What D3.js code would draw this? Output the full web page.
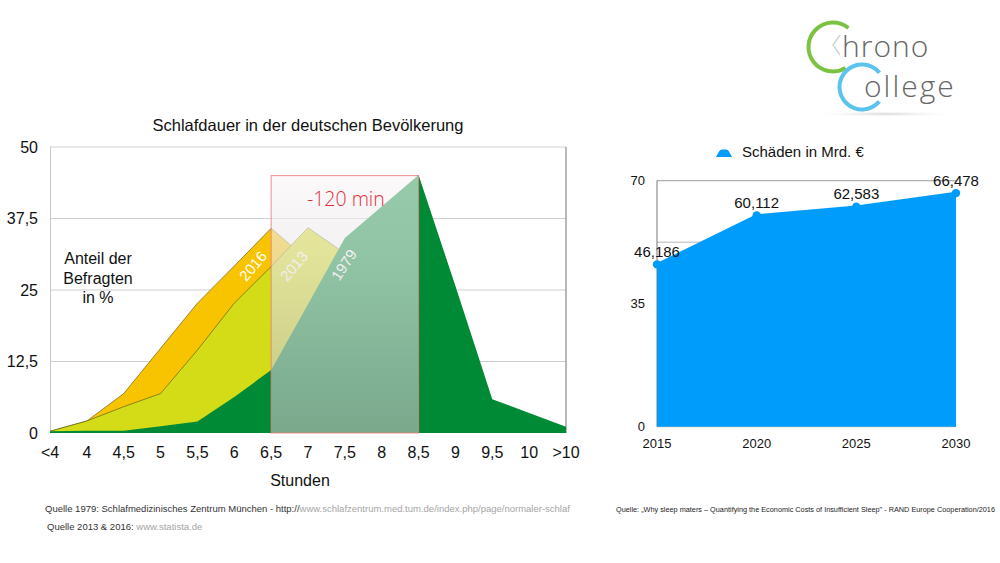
<!DOCTYPE html>
<html>
<head>
<meta charset="utf-8">
<script src="https://cdn.jsdelivr.net/npm/d3@7/dist/d3.min.js"></script>
<style>
  html, body { margin: 0; padding: 0; background: #fff; }
  svg { display: block; font-family: "Liberation Sans", Arial, sans-serif; }
</style>
</head>
<body>
<svg id="chart" width="1000" height="563"></svg>
<script>
// ---------- Data: left chart ----------
const categories = ["<4","4","4,5","5","5,5","6","6,5","7","7,5","8","8,5","9","9,5","10",">10"];
const values2016 = [0.3, 2.1, 6.9, 14.8, 22.7, 29.2, 35.8, 30.2, 20, 10, 4, 1.5, 0.5, 0.3, 0.2];
const values2013 = [0.3, 2.1, 4.6, 6.9, 14.5, 22.7, 29.1, 35.9, 31.4, 18, 8, 2.5, 0.8, 0.3, 0.2];
const values1979 = [0.3, 0.4, 0.4, 1.2, 2.0, 6.3, 11.0, 22.5, 34.1, 39.6, 45.1, 25.7, 5.9, 3.5, 1.1];
const leftTicks = [0, 12.5, 25, 37.5, 50];
const leftTickLabels = ["0", "12,5", "25", "37,5", "50"];
const boxRange = ["6,5", "8,5"];
const boxTop = 45;

// ---------- Data: right chart ----------
const years = [2015, 2020, 2025, 2030];
const damages = [46.186, 60.112, 62.583, 66.478];
const damageLabels = ["46,186", "60,112", "62,583", "66,478"];
const rightGrid = [0, 17.5, 35, 52.5, 70];
const rightTicks = [0, 35, 70];

const svg = d3.select("#chart");
const defs = svg.append("defs");

// ================= LEFT CHART =================
const xL = d3.scalePoint().domain(categories).range([50, 566]);
const yL = d3.scaleLinear().domain([0, 50]).range([433, 147]);

const gL = svg.append("g");

gL.selectAll(".gridL").data(leftTicks.filter(d => d > 0)).enter().append("line")
  .attr("x1", 50).attr("x2", 566)
  .attr("y1", d => yL(d)).attr("y2", d => yL(d))
  .attr("stroke", "#cfcfcf").attr("stroke-width", 1);

gL.append("line").attr("x1", 50.5).attr("x2", 50.5).attr("y1", yL(50)).attr("y2", yL(0))
  .attr("stroke", "#c8c8c8");
gL.append("line").attr("x1", 566).attr("x2", 566).attr("y1", yL(50)).attr("y2", yL(0))
  .attr("stroke", "#8a8a8a").attr("stroke-width", 1.2);

const areaL = vals => d3.area()
  .x((d, i) => xL(categories[i]))
  .y0(yL(0))
  .y1(d => yL(d))(vals);
const lineL = vals => d3.line()
  .x((d, i) => xL(categories[i]))
  .y(d => yL(d))(vals);

gL.append("path").attr("d", areaL(values2016)).attr("fill", "#f8c400");
gL.append("path").attr("d", lineL(values2016)).attr("fill", "none").attr("stroke", "#5a4a10").attr("stroke-width", 0.6);
gL.append("path").attr("d", areaL(values2013)).attr("fill", "#d4dc18");
gL.append("path").attr("d", lineL(values2013)).attr("fill", "none").attr("stroke", "#4a5010").attr("stroke-width", 0.6);
gL.append("path").attr("d", areaL(values1979)).attr("fill", "#008a36");

const yearLabels = [
  { t: "2016", x: 253, y: 266, a: -50 },
  { t: "2013", x: 294, y: 266, a: -50 },
  { t: "1979", x: 344, y: 265, a: -57 }
];
gL.selectAll(".yl").data(yearLabels).enter().append("text")
  .attr("transform", d => `translate(${d.x},${d.y}) rotate(${d.a})`)
  .attr("text-anchor", "middle").attr("dy", "0.35em")
  .attr("font-size", 15).attr("fill", "#fff")
  .text(d => d.t);

// highlight box
const grad = defs.append("linearGradient").attr("id", "boxGrad")
  .attr("x1", 0).attr("y1", 0).attr("x2", 0).attr("y2", 1);
grad.append("stop").attr("offset", "0%").attr("stop-color", "rgb(250,245,247)").attr("stop-opacity", 0.6);
grad.append("stop").attr("offset", "30%").attr("stop-color", "rgb(235,232,234)").attr("stop-opacity", 0.62);
grad.append("stop").attr("offset", "100%").attr("stop-color", "rgb(184,184,184)").attr("stop-opacity", 0.66);

const bx0 = xL(boxRange[0]), bx1 = xL(boxRange[1]);
gL.append("rect")
  .attr("x", bx0).attr("y", yL(boxTop))
  .attr("width", bx1 - bx0).attr("height", yL(0) - yL(boxTop))
  .attr("fill", "url(#boxGrad)")
  .attr("stroke", "#ec7b7b").attr("stroke-opacity", 0.85).attr("stroke-width", 1);

gL.append("text").attr("x", (bx0 + bx1) / 2 + 1).attr("y", 206)
  .attr("text-anchor", "middle")
  .attr("font-family", "'Open Sans', sans-serif").attr("font-weight", 300)
  .attr("font-size", 19.5).attr("fill", "#e2303b")
  .text("-120 min");

gL.selectAll(".ytl").data(leftTicks).enter().append("text")
  .attr("x", 38).attr("y", d => yL(d)).attr("dy", "0.36em")
  .attr("text-anchor", "end").attr("font-size", 16).attr("fill", "#111")
  .text((d, i) => leftTickLabels[i]);

gL.selectAll(".xtl").data(categories).enter().append("text")
  .attr("x", d => xL(d)).attr("y", 458)
  .attr("text-anchor", "middle").attr("font-size", 16).attr("fill", "#111")
  .text(d => d);

gL.append("text").attr("x", 300).attr("y", 486).attr("text-anchor", "middle")
  .attr("font-size", 16).attr("fill", "#111").text("Stunden");

gL.append("text").attr("x", 308).attr("y", 131).attr("text-anchor", "middle")
  .attr("font-size", 16.5).attr("fill", "#111").text("Schlafdauer in der deutschen Bevölkerung");

const axisTitle = gL.append("text").attr("text-anchor", "middle").attr("font-size", 16).attr("fill", "#111");
["Anteil der", "Befragten", "in %"].forEach((t, i) => {
  axisTitle.append("tspan").attr("x", 98).attr("y", 264 + i * 19.5).text(t);
});

// sources left
const s1 = svg.append("text").attr("x", 45).attr("y", 512).attr("font-size", 9.5).attr("fill", "#333");
s1.append("tspan").text("Quelle 1979: Schlafmedizinisches Zentrum München - http://");
s1.append("tspan").attr("fill", "#a5a5a5").text("www.schlafzentrum.med.tum.de/index.php/page/normaler-schlaf");
const s2 = svg.append("text").attr("x", 47).attr("y", 530).attr("font-size", 9.5).attr("fill", "#333");
s2.append("tspan").text("Quelle 2013 & 2016: ");
s2.append("tspan").attr("fill", "#a5a5a5").text("www.statista.de");

// ================= RIGHT CHART =================
const xR = d3.scalePoint().domain(years).range([657, 956]);
const yR = d3.scaleLinear().domain([0, 70]).range([426.7, 180.7]);
const gR = svg.append("g");

gR.selectAll(".gridR").data(rightGrid).enter().append("line")
  .attr("x1", 657).attr("x2", 956)
  .attr("y1", d => yR(d)).attr("y2", d => yR(d))
  .attr("stroke", d => d === 70 ? "#9a9a9a" : "#b8b8b8").attr("stroke-width", 1);
gR.append("line").attr("x1", 657).attr("x2", 657).attr("y1", yR(70)).attr("y2", yR(0))
  .attr("stroke", "#777").attr("stroke-width", 1);

const blue = "#009cfb";
gR.append("path")
  .attr("d", d3.area().x((d, i) => xR(years[i])).y0(yR(0)).y1(d => yR(d))(damages))
  .attr("fill", blue);
gR.append("path")
  .attr("d", d3.line().x((d, i) => xR(years[i])).y(d => yR(d))(damages))
  .attr("fill", "none").attr("stroke", blue).attr("stroke-width", 2.5);
gR.selectAll(".pt").data(damages).enter().append("circle")
  .attr("cx", (d, i) => xR(years[i])).attr("cy", d => yR(d)).attr("r", 4.2)
  .attr("fill", blue);

gR.selectAll(".vl").data(damages).enter().append("text")
  .attr("x", (d, i) => xR(years[i])).attr("y", d => yR(d) - 7.5)
  .attr("text-anchor", "middle").attr("font-size", 15).attr("fill", "#111")
  .text((d, i) => damageLabels[i]);

gR.selectAll(".ytr").data(rightTicks).enter().append("text")
  .attr("x", 645).attr("y", d => yR(d)).attr("dy", "0.36em")
  .attr("text-anchor", "end").attr("font-size", 13).attr("fill", "#111")
  .text(d => d);

gR.selectAll(".xtr").data(years).enter().append("text")
  .attr("x", d => xR(d)).attr("y", 448)
  .attr("text-anchor", "middle").attr("font-size", 13).attr("fill", "#111")
  .text(d => d);

gR.append("path")
  .attr("d", "M716,157 L719,151.5 Q720,149.5 722,149.5 L726,149.5 Q728,149.5 729,151.5 L732,157 Z")
  .attr("fill", blue);
gR.append("text").attr("x", 742).attr("y", 157).attr("font-size", 15).attr("fill", "#111")
  .text("Schäden in Mrd. €");

svg.append("text").attr("x", 616).attr("y", 512).attr("font-size", 7.4).attr("fill", "#222")
  .attr("textLength", 379).attr("lengthAdjust", "spacingAndGlyphs")
  .text("Quelle: „Why sleep maters – Quantifying the Economic Costs of Insufficient Sleep\" - RAND Europe Cooperation/2016");

// ================= LOGO =================
const logo = svg.append("g");
const shadowGrad = defs.append("radialGradient").attr("id", "shadowGrad");
shadowGrad.append("stop").attr("offset", "0%").attr("stop-color", "#bbb").attr("stop-opacity", 0.6);
shadowGrad.append("stop").attr("offset", "100%").attr("stop-color", "#fff").attr("stop-opacity", 0);
logo.append("ellipse").attr("cx", 885).attr("cy", 114).attr("rx", 75).attr("ry", 3)
  .attr("fill", "url(#shadowGrad)");

const deg = Math.PI / 180;
logo.append("path")
  .attr("transform", "translate(833,47)")
  .attr("d", d3.arc().innerRadius(22.5).outerRadius(26.5).startAngle(149 * deg).endAngle(399 * deg)())
  .attr("fill", "#7cc242");
logo.append("path")
  .attr("transform", "translate(862,87)")
  .attr("d", d3.arc().innerRadius(20.5).outerRadius(24.5).startAngle(130 * deg).endAngle(411 * deg)())
  .attr("fill", "#5cc2ee");
logo.append("polyline")
  .attr("points", "840,35 833,45 840,55")
  .attr("fill", "none").attr("stroke", "#d4d4d4").attr("stroke-width", 1.5);
logo.append("text").attr("x", 842).attr("y", 57)
  .attr("font-family", "'Open Sans', sans-serif").attr("font-weight", 300)
  .attr("font-size", 30).attr("letter-spacing", 1).attr("fill", "#666").text("hrono");
logo.append("text").attr("x", 864).attr("y", 97)
  .attr("font-family", "'Open Sans', sans-serif").attr("font-weight", 300)
  .attr("font-size", 30).attr("letter-spacing", 2).attr("fill", "#666").text("ollege");
</script>
</body>
</html>
